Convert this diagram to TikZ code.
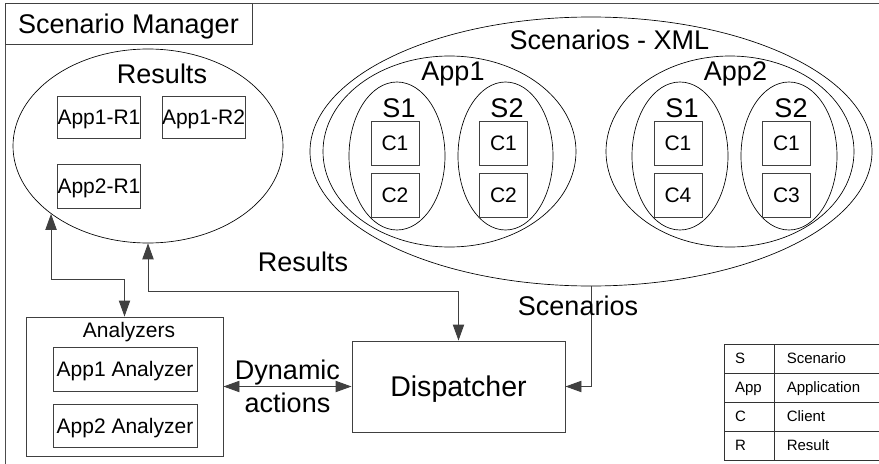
\documentclass[tikz,border=0pt]{standalone}
\usepackage{fontspec}
\setmainfont{Liberation Sans}
\usetikzlibrary{shapes.geometric,arrows.meta}

\newcommand\px{0.75pt}
\newcommand\bigfont{\fontsize{20.25pt}{24.75pt}\selectfont}
\newcommand\midfont{\fontsize{15.75pt}{19pt}\selectfont}
\newcommand\smallfont{\fontsize{11.25pt}{13.5pt}\selectfont}

\begin{document}
\begin{tikzpicture}[x=\px,y=-\px,
	line width=0.7pt,
	>={Triangle[length=12pt,width=8.5pt]},
	oval/.style={ellipse,draw,line width=0.5pt,inner sep=0pt},
	box/.style={draw=black!75,inner sep=0pt,font=\midfont,text height=11.3pt,text depth=0pt},
	cbox/.style={box,minimum width=48*\px,minimum height=44*\px},
	title/.style={anchor=base,font=\bigfont},
	cell/.style={draw=black!80,line width=0.6pt,minimum height=29*\px,inner ysep=0pt,
		font=\smallfont,text height=8.1pt,text depth=0pt,align=left},
	conn/.style={draw=black!75}]

	\useasboundingbox (0,0) rectangle (879,464);
	\draw[black!70] (879,3) -| (5,464);

	\node[box,font=\bigfont,text height=14.5pt,minimum width=247*\px,minimum height=41*\px] (sm) at (128.5,23.5) {Scenario Manager};

	% results store
	\node[oval,minimum width=270*\px,minimum height=194*\px] (res) at (148,146) {};
	\node[title] (restitle) at (162,83) {Results};
	\node[box,minimum width=82*\px,minimum height=42*\px] (r11) at (99,117) {App1-R1};
	\node[box,minimum width=83*\px,minimum height=42*\px] (r12) at (203.5,117) {App1-R2};
	\node[box,minimum width=82*\px,minimum height=44*\px] (r21) at (99,186) {App2-R1};

	% scenario files
	\node[oval,minimum width=562*\px,minimum height=269*\px] (xml) at (591,151.5) {};
	\node[title] (xmltitle) at (609.5,49) {Scenarios - XML};
	\node[oval,minimum width=253*\px,minimum height=191*\px] (app1) at (449.5,151.5) {};
	\node[title] (app1title) at (453,80) {App1};
	\node[oval,minimum width=248*\px,minimum height=191*\px] (app2) at (730,151.5) {};
	\node[title] (app2title) at (735.5,80) {App2};

	\node[oval,minimum width=96*\px,minimum height=148*\px] (a1s1) at (397,156) {};
	\node[oval,minimum width=95*\px,minimum height=148*\px] (a1s2) at (505.5,156) {};
	\node[oval,minimum width=96*\px,minimum height=148*\px] (a2s1) at (680,156) {};
	\node[oval,minimum width=96*\px,minimum height=148*\px] (a2s2) at (789,156) {};
	\node[title] (a1s1title) at (399,117) {S1};
	\node[title] (a1s2title) at (507,117) {S2};
	\node[title] (a2s1title) at (682,117) {S1};
	\node[title] (a2s2title) at (791,117) {S2};

	\node[cbox] (a1s1c1) at (395,143) {C1};
	\node[cbox] (a1s1c2) at (395,195) {C2};
	\node[cbox] (a1s2c1) at (503.5,143) {C1};
	\node[cbox] (a1s2c2) at (503.5,195) {C2};
	\node[cbox] (a2s1c1) at (678,143) {C1};
	\node[cbox] (a2s1c4) at (678,195) {C4};
	\node[cbox] (a2s2c1) at (786.5,143) {C1};
	\node[cbox] (a2s2c3) at (786.5,195) {C3};

	% analyzers and dispatcher
	\node[box,minimum width=197*\px,minimum height=139*\px] (anz) at (124.5,386.5) {};
	\node[anchor=base,font=\midfont] (anztitle) at (129,337) {Analyzers};
	\node[box,minimum width=144*\px,minimum height=44*\px] (anz1) at (125,369) {App1 Analyzer};
	\node[box,minimum width=144*\px,minimum height=43*\px] (anz2) at (125,425.5) {App2 Analyzer};
	\node[box,font=\fontsize{21.4pt}{25pt}\selectfont,text height=15.3pt,minimum width=213*\px,minimum height=91*\px] (disp) at (458.5,386.5) {Dispatcher};

	\path[conn,<->] (res.215) -- ++(0,66) -| (anz.north);
	\path[conn,<->] (res.south) -- ++(0,48) -| (disp.north);
	\path[conn,->] (xml.south) |- (disp.east);
	\path[conn,<->] (anz.east) -- node[font=\bigfont,align=center,inner sep=0pt] (dyn) {Dynamic\\actions} (disp.west);
	\node[title] (reslbl) at (303,271) {Results};
	\node[title] (scnlbl) at (578,315) {Scenarios};

	% legend
	\foreach \k/\v [count=\i] in {S/Scenario, App/Application, C/Client, R/Result} {
		\node[cell,text width=28*\px,inner xsep=11*\px] (key\i) at (749,344+29*\i-14.5) {\k};
		\node[cell,text width=96*\px,inner xsep=12*\px,anchor=west] (val\i) at (key\i.east) {\v};
	}
\end{tikzpicture}
\end{document}
